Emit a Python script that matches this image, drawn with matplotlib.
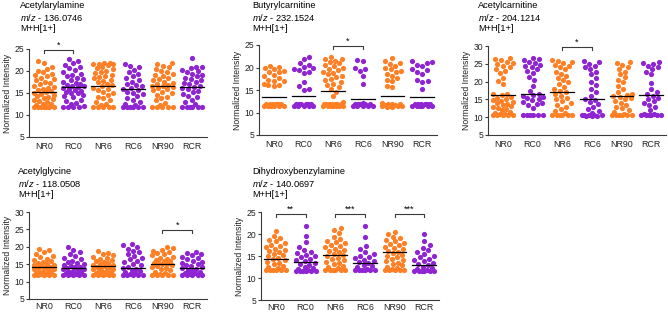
import numpy as np
import matplotlib.pyplot as plt

plt.rcParams["font.family"] = ["Liberation Sans", "DejaVu Sans"]
plt.rcParams["mathtext.fontset"] = "custom"
plt.rcParams["mathtext.it"] = "Liberation Sans:italic"
plt.rcParams["mathtext.rm"] = "Liberation Sans"

groups = ["NR0", "RC0", "NR6", "RC6", "NR90", "RCR"]

# values, one list per group
acetylarylamine = [
    [11.8, 11.8, 11.8, 11.8, 11.8, 11.9, 11.9, 12.3, 12.4, 12.6, 12.9, 13.2, 13.4, 13.6, 13.9, 14.1, 14.3,
     14.5, 14.8, 15.0, 15.2, 15.4, 15.7, 15.9, 16.2, 16.4, 16.7, 17.0, 17.3, 17.6, 17.9, 18.2, 18.5,
     18.8, 19.1, 19.4, 19.7, 20.0, 20.4, 20.9, 21.8, 22.2],
    [11.8, 11.8, 11.8, 11.9, 12.0, 12.4, 12.8, 13.2, 13.5, 14.0, 14.3, 14.6, 14.9, 15.1, 15.3, 15.5, 15.7,
     15.9, 16.1, 16.3, 16.5, 16.7, 16.9, 17.1, 17.3, 17.6, 17.9, 18.2, 18.5, 18.8, 19.1, 19.4, 19.8,
     20.2, 20.6, 21.0, 21.4, 21.8, 22.3, 22.7],
    [11.8, 11.8, 11.8, 11.8, 11.8, 12.2, 12.6, 13.0, 13.4, 13.8, 14.2, 14.6, 15.0, 15.3, 15.6, 15.9, 16.2,
     16.5, 16.8, 17.1, 17.4, 17.7, 18.0, 18.3, 18.6, 18.9, 19.2, 19.5, 19.8, 20.1, 20.4, 20.7, 21.0,
     21.3, 21.5, 21.6, 21.7, 21.8, 21.8],
    [11.8, 11.8, 11.8, 11.8, 11.8, 11.9, 12.2, 12.6, 13.0, 13.5, 13.9, 14.3, 14.7, 15.0, 15.3, 15.6, 15.9,
     16.2, 16.5, 16.8, 17.1, 17.5, 17.9, 18.3, 18.8, 19.3, 19.8, 20.3, 20.8, 21.2, 21.5],
    [11.8, 11.8, 11.8, 11.8, 11.9, 12.3, 12.8, 13.3, 13.8, 14.2, 14.6, 15.0, 15.3, 15.6, 15.9, 16.1, 16.3,
     16.5, 16.7, 16.9, 17.1, 17.3, 17.6, 17.9, 18.2, 18.5, 18.8, 19.1, 19.4, 19.7, 20.0, 20.4, 20.8,
     21.2, 21.6, 21.9],
    [11.8, 11.8, 11.8, 11.8, 11.8, 11.9, 12.4, 13.0, 13.5, 14.0, 14.4, 14.8, 15.2, 15.5, 15.8, 16.1, 16.4,
     16.7, 17.0, 17.3, 17.6, 17.9, 18.2, 18.5, 18.8, 19.1, 19.4, 19.7, 20.0, 20.3, 20.6, 21.0, 21.0, 23.0],
]
acetylarylamine_mean = [15.3, 16.4, 16.6, 15.8, 16.6, 16.4]

butyrylcarnitine = [
    [11.4, 11.4, 11.4, 11.4, 11.4, 11.4, 11.8, 11.8, 11.8, 11.8, 11.8, 11.8, 15.8, 16.1, 16.2, 16.3, 16.9,
     17.1, 17.3, 17.6, 18.2, 18.4, 18.9, 19.1, 19.3, 19.6, 20.0, 20.2, 20.3],
    [11.4, 11.4, 11.4, 11.4, 11.4, 11.8, 11.8, 11.8, 11.8, 11.8, 11.8, 15.1, 15.3, 15.8, 16.8, 18.8, 19.1,
     19.4, 19.6, 19.8, 20.1, 20.6, 21.0, 22.0, 22.4],
    [11.4, 11.4, 11.4, 11.4, 11.4, 11.4, 11.4, 11.8, 11.8, 11.8, 11.8, 11.8, 11.8, 11.8, 12.4, 13.6, 14.6,
     15.2, 15.7, 16.1, 16.4, 16.8, 17.2, 17.5, 17.8, 18.2, 18.5, 18.8, 19.1, 19.4, 19.7, 20.0, 20.3,
     20.6, 20.9, 21.2, 21.5, 21.8, 22.0, 22.3],
    [11.4, 11.4, 11.4, 11.4, 11.4, 11.8, 11.8, 11.8, 11.8, 11.8, 12.2, 16.3, 18.2, 19.2, 19.6, 19.8, 21.4,
     21.7],
    [11.2, 11.3, 11.4, 11.4, 11.5, 11.5, 11.6, 11.7, 11.8, 11.9, 12.0, 12.2, 15.6, 16.0, 16.9, 17.3, 17.6,
     18.1, 18.6, 19.0, 19.3, 19.6, 20.0, 20.4, 20.8, 21.1, 21.5, 22.2],
    [11.4, 11.4, 11.4, 11.4, 11.4, 11.4, 11.8, 11.8, 11.8, 11.8, 11.8, 11.8, 15.3, 16.8, 17.0, 17.3, 18.6,
     19.1, 19.4, 19.6, 20.3, 20.6, 21.0, 21.2, 21.4],
]
butyrylcarnitine_mean = [13.5, 13.7, 14.7, 13.0, 13.7, 13.5]

acetylcarnitine = [
    [10.5, 10.5, 10.5, 10.5, 10.5, 10.8, 11.0, 11.3, 11.6, 11.9, 12.2, 12.5, 12.8, 13.1, 13.4, 13.7, 14.0,
     14.3, 14.6, 14.9, 15.2, 15.5, 15.8, 16.1, 16.4, 16.6, 19.2, 20.2, 21.0, 22.3, 23.0, 23.4, 24.0,
     24.5, 24.9, 25.3, 25.6, 26.0, 26.3, 26.5],
    [10.5, 10.5, 10.5, 10.5, 10.5, 10.5, 12.7, 13.5, 13.8, 14.1, 14.4, 14.7, 15.0, 15.3, 15.6, 15.9, 16.2,
     16.5, 17.5, 18.9, 20.4, 21.2, 22.5, 23.0, 23.5, 24.0, 24.4, 24.8, 25.2, 25.6, 26.0, 26.3, 26.5],
    [10.5, 10.5, 10.5, 10.5, 10.5, 10.5, 11.2, 11.8, 12.4, 13.0, 13.5, 14.0, 14.5, 15.0, 15.5, 16.0, 16.5,
     17.0, 17.5, 18.0, 18.6, 19.2, 19.8, 20.4, 21.0, 21.6, 22.2, 22.8, 23.4, 24.0, 24.4, 24.8, 25.2,
     25.6, 25.9, 26.2],
    [10.2, 10.3, 10.4, 10.5, 10.5, 10.5, 10.5, 10.6, 11.2, 11.8, 12.4, 13.0, 13.6, 14.2, 14.8, 15.2, 16.0,
     17.0, 18.0, 19.0, 20.0, 21.0, 22.0, 22.8, 23.5, 24.0, 24.5, 25.0, 25.5, 25.8],
    [10.5, 10.5, 10.5, 10.5, 10.5, 10.5, 11.0, 11.5, 12.0, 12.5, 13.0, 13.5, 14.0, 14.5, 15.0, 15.3, 15.6,
     15.9, 16.2, 16.6, 17.0, 17.8, 18.8, 19.8, 20.5, 21.2, 22.0, 22.8, 23.5, 24.2, 24.8, 25.3, 25.6],
    [10.5, 10.5, 10.5, 10.5, 10.5, 10.5, 10.8, 11.0, 12.0, 12.8, 13.5, 14.0, 14.5, 15.0, 15.5, 16.0, 16.5,
     17.0, 17.8, 19.7, 22.0, 22.8, 23.5, 24.0, 24.5, 25.0, 25.3, 25.5],
]
acetylcarnitine_mean = [16.2, 16.4, 17.2, 15.0, 15.9, 16.1]

acetylglycine = [
    [12.0, 12.0, 12.0, 12.0, 12.0, 12.1, 12.3, 12.5, 12.7, 12.9, 13.1, 13.3, 13.5, 13.7, 13.9, 14.1, 14.3,
     14.5, 14.7, 14.9, 15.1, 15.4, 15.7, 16.0, 16.3, 16.6, 17.0, 17.4, 17.9, 18.5, 19.0, 19.5],
    [12.0, 12.0, 12.0, 12.0, 12.0, 12.1, 12.3, 12.5, 12.7, 12.9, 13.1, 13.3, 13.5, 13.7, 13.9, 14.1, 14.3,
     14.5, 14.8, 15.1, 15.4, 15.7, 16.0, 16.4, 16.8, 17.3, 17.8, 18.4, 19.0, 19.8],
    [11.8, 11.9, 12.0, 12.0, 12.0, 12.1, 12.3, 12.5, 12.7, 12.9, 13.1, 13.3, 13.5, 13.7, 13.9, 14.1, 14.3,
     14.5, 14.7, 14.9, 15.1, 15.3, 15.6, 15.9, 16.2, 16.5, 16.8, 17.1, 17.5, 17.9, 18.3, 18.7],
    [12.0, 12.0, 12.0, 12.0, 12.0, 12.2, 12.5, 12.8, 13.1, 13.4, 13.7, 14.0, 14.3, 14.7, 15.1, 15.5, 15.9,
     16.4, 16.9, 17.4, 17.9, 18.4, 18.9, 19.5, 20.0, 20.5, 20.8],
    [12.0, 12.0, 12.0, 12.0, 12.0, 12.3, 12.6, 12.9, 13.2, 13.5, 13.8, 14.1, 14.4, 14.7, 15.0, 15.2, 15.4,
     15.6, 15.8, 16.0, 16.3, 16.6, 16.9, 17.2, 17.5, 17.8, 18.1, 18.4, 18.8, 19.2, 19.6, 19.8],
    [12.0, 12.0, 12.0, 12.0, 12.0, 12.2, 12.4, 12.6, 12.8, 13.0, 13.3, 13.6, 13.9, 14.2, 14.5, 14.8, 15.1,
     15.4, 15.7, 16.0, 16.4, 16.8, 17.2, 17.6, 18.0, 18.3, 18.5],
]
acetylglycine_mean = [14.2, 14.0, 14.5, 14.0, 15.0, 14.0]

dihydroxybenzylamine = [
    [11.8, 11.8, 11.8, 11.8, 11.8, 11.9, 12.2, 12.5, 12.8, 13.1, 13.4, 13.7, 14.0, 14.3, 14.6, 14.9, 15.2,
     15.5, 15.8, 16.1, 16.4, 16.7, 17.0, 17.3, 17.6, 17.9, 18.3, 18.7, 19.1, 19.5, 20.7],
    [11.5, 11.5, 11.5, 11.5, 11.5, 11.6, 11.8, 12.0, 12.3, 12.6, 12.9, 13.2, 13.5, 13.8, 14.1, 14.4, 14.7,
     15.0, 15.3, 15.6, 16.0, 16.4, 17.0, 18.2, 19.5, 21.8],
    [11.8, 11.8, 11.8, 11.8, 11.8, 11.9, 12.2, 12.5, 12.8, 13.1, 13.4, 13.7, 14.0, 14.3, 14.6, 14.9, 15.2,
     15.5, 15.8, 16.1, 16.4, 16.7, 17.0, 17.3, 17.6, 17.9, 18.2, 18.5, 18.9, 19.4, 20.2, 20.9, 21.3],
    [11.8, 11.8, 11.8, 11.8, 11.8, 11.9, 12.1, 12.4, 12.7, 13.0, 13.3, 13.6, 13.9, 14.2, 14.5, 14.8, 15.1,
     15.5, 16.0, 16.6, 17.2, 19.4, 21.8],
    [11.8, 11.8, 11.8, 11.8, 11.8, 12.0, 12.3, 12.6, 12.9, 13.2, 13.5, 13.8, 14.1, 14.4, 14.7, 15.0, 15.3,
     15.6, 15.9, 16.2, 16.5, 16.8, 17.1, 17.4, 17.7, 18.0, 18.3, 18.6, 19.0, 19.4, 19.9, 20.5],
    [11.5, 11.5, 11.5, 11.5, 11.5, 11.6, 11.8, 12.0, 12.3, 12.6, 12.9, 13.2, 13.5, 13.8, 14.1, 14.4, 14.7,
     15.0, 15.4, 15.8, 16.3, 16.8, 17.5, 18.5, 20.0],
]
dihydroxybenzylamine_mean = [14.4, 13.6, 15.3, 13.3, 15.8, 13.0]

ORANGE = "#FF8024"
PURPLE = "#8E24D2"
AXCOL = "#3a3a3a"
W, H = 668, 314


def swarm_offsets(ax, xc, ys, d=5.4, maxw=10.0):
    # simple beeswarm in pixel space, returns x offsets in data units
    pix = ax.transData.transform(np.column_stack([np.full(len(ys), xc), ys]))
    py = pix[:, 1]
    px_per_unit = ax.transData.transform([(1, 0)])[0, 0] - ax.transData.transform([(0, 0)])[0, 0]
    cands = np.arange(-maxw, maxw + 0.01, 0.5)
    order = np.argsort(py, kind="stable")
    placed_x, placed_y = [], []
    off = np.zeros(len(ys))
    for k, i in enumerate(order):
        sign = 1 if k % 2 else -1
        best, best_dist = 0.0, -1.0
        for c in sorted(cands, key=lambda c: (abs(c), sign * c)):
            if placed_x:
                dist = np.min(np.hypot(np.array(placed_x) - c, np.array(placed_y) - py[i]))
            else:
                dist = np.inf
            if dist >= d:
                best = c
                break
            if dist > best_dist:
                best, best_dist = c, dist
        placed_x.append(best)
        placed_y.append(py[i])
        off[i] = best / px_per_unit
    return off


def draw_panel(fig, rect_px, name, mz, values, means, ymax, brackets, title_xy, xpad=3.5):
    x0, x1, ytop, ybot = rect_px
    ax = fig.add_axes([x0 / W, 1 - ybot / H, (x1 - x0) / W, (ybot - ytop) / H])
    ax.set_xlim(-0.5, 5.5)
    ax.set_ylim(5, ymax)
    px_per_y = (ybot - ytop) / (ymax - 5)

    for i, (ys, m) in enumerate(zip(values, means)):
        col = ORANGE if i % 2 == 0 else PURPLE
        dx = swarm_offsets(ax, i, ys)
        ax.scatter(i + dx, ys, s=14, color=col, linewidths=0, zorder=2, clip_on=False)
        ax.plot([i - 0.4, i + 0.4], [m, m], color="black", lw=0.9, zorder=3)

    for a, b, y, label in brackets:
        tick = 3 / px_per_y
        ax.plot([a, a, b, b], [y - tick, y, y, y - tick], color=AXCOL, lw=0.8, clip_on=False)
        ax.text((a + b) / 2, y + 0.3 / px_per_y, label, ha="center", va="bottom",
                fontsize=6.5, clip_on=False)

    for s in ["top", "right"]:
        ax.spines[s].set_visible(False)
    for s in ["left", "bottom"]:
        ax.spines[s].set_color(AXCOL)
        ax.spines[s].set_linewidth(0.8)
    ax.spines["left"].set_bounds(5, ymax)
    ax.set_yticks(np.arange(5, ymax + 1, 5))
    ax.set_xticks(range(len(groups)))
    ax.set_xticklabels(groups)
    ax.tick_params(axis="x", length=0, pad=xpad, labelsize=6.4, colors="#222222")
    ax.tick_params(axis="y", length=2.5, width=0.8, pad=1, labelsize=6.2, colors=AXCOL,
                   labelcolor="#222222")
    ax.set_ylabel("Normalized Intensity", fontsize=6.2, labelpad=2, color="#222222")

    tx, ty = title_xy
    fig.text(tx / W, 1 - ty / H, name, fontsize=6.7, va="center", ha="left")
    fig.text(tx / W, 1 - (ty + 11.5) / H, r"$\it{m/z}$ - " + mz, fontsize=6.7, va="center", ha="left")
    fig.text(tx / W, 1 - (ty + 22.5) / H, "M+H[1+]", fontsize=6.7, va="center", ha="left")
    return ax


def main():
    fig = plt.figure(figsize=(W / 100, H / 100), dpi=100)

    draw_panel(fig, (29, 207, 49, 137), "Acetylarylamine", "136.0746",
               acetylarylamine, acetylarylamine_mean, 25,
               [(0, 1, 24.8, "*")], (20, 6))
    draw_panel(fig, (259, 437, 45, 135), "Butyrylcarnitine", "232.1524",
               butyrylcarnitine, butyrylcarnitine_mean, 25,
               [(2, 3, 24.8, "*")], (252, 6))
    draw_panel(fig, (488, 666, 46, 135), "Acetylcarnitine", "204.1214",
               acetylcarnitine, acetylcarnitine_mean, 30,
               [(2, 3, 29.7, "*")], (478, 6))
    draw_panel(fig, (29, 207, 212, 299), "Acetylglycine", "118.0508",
               acetylglycine, acetylglycine_mean, 30,
               [(4, 5, 24.8, "*")], (18, 172), xpad=2.5)
    draw_panel(fig, (261, 439, 212, 300), "Dihydroxybenzylamine", "140.0697",
               dihydroxybenzylamine, dihydroxybenzylamine_mean, 25,
               [(0, 1, 24.5, "**"), (2, 3, 24.5, "***"), (4, 5, 24.5, "***")], (252, 172), xpad=2.0)

    fig.savefig("out.png", dpi=100)


if __name__ == "__main__":
    main()
